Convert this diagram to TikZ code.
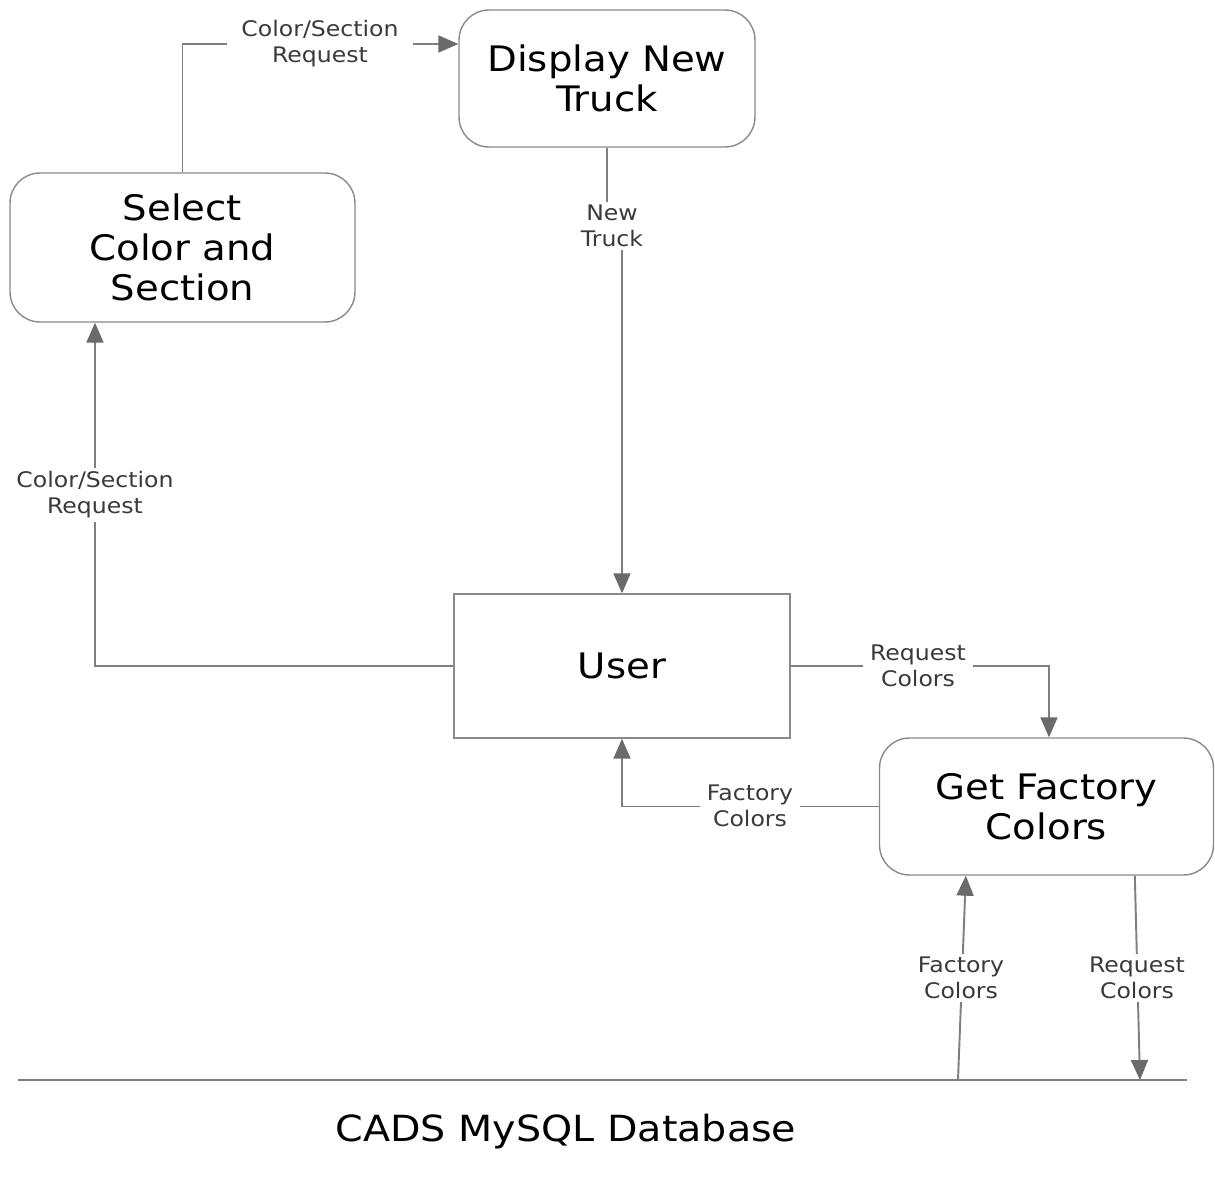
\documentclass[tikz,border=0pt]{standalone}
\usepackage{fontspec}
\setmainfont{DejaVu Sans}[FakeStretch=1.1]
\usetikzlibrary{arrows.meta,calc,backgrounds}
\definecolor{linegray}{HTML}{7F7F7F}
\definecolor{tipgray}{HTML}{6A6A6A}
\definecolor{boxgray}{HTML}{8A8A8A}
\definecolor{labelgray}{HTML}{3A3A3A}
\tikzset{
  proc/.style={draw=boxgray, line width=0.8pt, rounded corners=0.6cm, fill=none, align=center, inner sep=0pt,
    font=\fontsize{20}{22.8}\selectfont, text=black},
  entity/.style={draw=boxgray, line width=0.8pt, align=center, inner sep=0pt,
    font=\fontsize{20}{22.8}\selectfont, text=black},
  flowlabel/.style={fill=white, align=center, inner xsep=4pt, inner ysep=2pt, text=labelgray,
    font=\fontsize{12.2}{14.7}\selectfont},
  flow/.style={draw=linegray, line width=1.1pt, -{Triangle[length=0.4cm, width=0.34cm, color=tipgray]}},
  plainflow/.style={draw=linegray, line width=1.1pt},
}
\begin{document}
\begin{tikzpicture}[x=0.02cm, y=-0.02cm]
\useasboundingbox (0,0) rectangle (1215,1182);

% boxes
\node[proc, minimum width=5.92cm, minimum height=2.74cm] (disp) at (607,78.5) {Display New\\Truck};
\node[proc, minimum width=6.9cm, minimum height=2.98cm] (sel) at (182.5,247.5) {Select\\Color and\\Section};
\node[entity, minimum width=6.72cm, minimum height=2.88cm] (user) at (622,666) {User};
\node[proc, minimum width=6.68cm, minimum height=2.74cm] (get) at (1046.5,806.5) {Get Factory\\Colors};

% database
\coordinate (dbL) at (18,1080);
\coordinate (dbR) at (1187,1080);
\node[font=\fontsize{20.5}{24}\selectfont, text=black] (dbtext) at (566,1132) {CADS MySQL Database};

% labels
\node[flowlabel, inner xsep=8pt] (l1) at (320,44) {Color/Section\\Request};
\node[flowlabel] (l2) at (612,226) {New\\Truck};
\node[flowlabel] (l3) at (95,495) {Color/Section\\Request};
\node[flowlabel] (l4) at (918,666) {Request\\Colors};
\node[flowlabel] (l5) at (750,806) {Factory\\Colors};
\node[flowlabel] (l6) at (961,978) {Factory\\Colors};
\node[flowlabel] (l7) at (1137,978) {Request\\Colors};

\begin{pgfonlayer}{background}
\draw[plainflow] (dbL) -- (dbR);
\draw[flow] (sel.north) |- (disp.west |- l1);
\draw[plainflow] (disp.south) -- (disp.south |- l2);
\draw[flow] (l2.center -| user.north) -- (user.north);
\draw[flow] (user.west) -| (sel.south -| l3);
\draw[flow] (user.east) -| ($(get.north)+(2.5,0)$);
\draw[flow] (get.west) -| (user.south);
\draw[flow] ($(dbL)+(940,0)$) -- ($(get.south west)+(87,0)$);
\draw[flow] ($(get.south west)+(256,0)$) -- ($(dbL)+(1122,0)$);
\end{pgfonlayer}
\end{tikzpicture}
\end{document}
